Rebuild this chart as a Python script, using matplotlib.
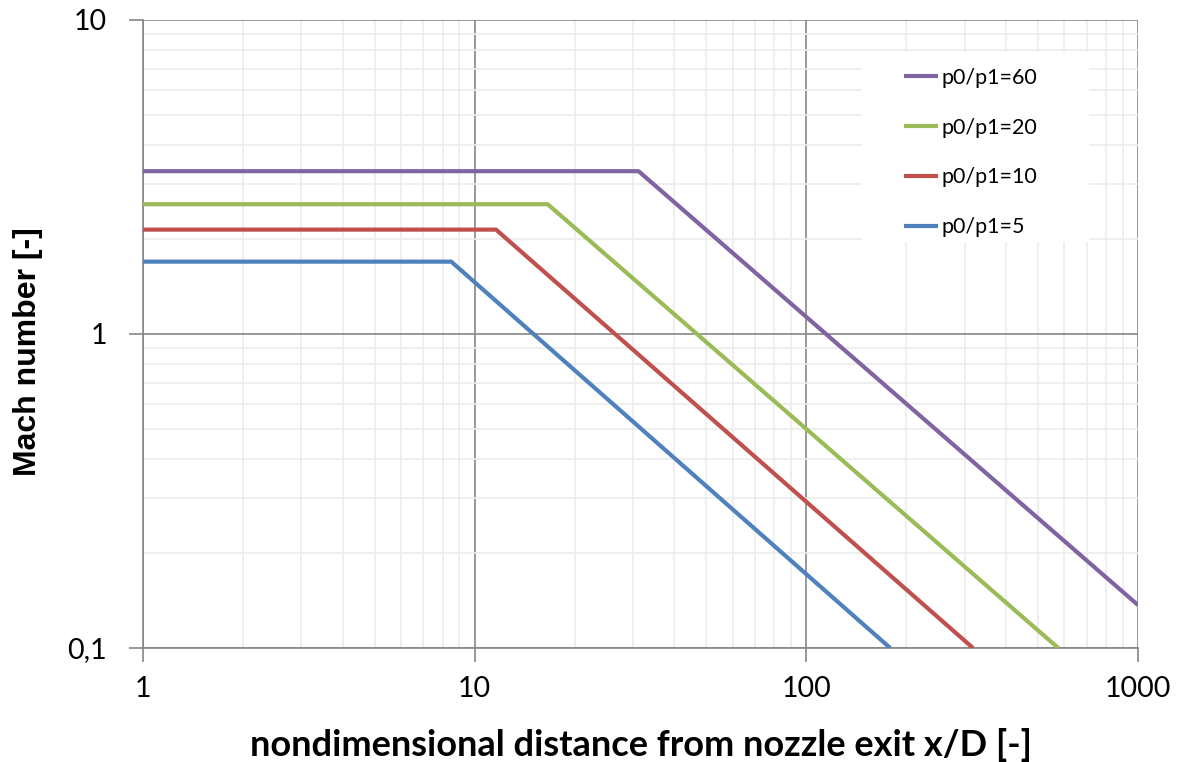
import matplotlib
matplotlib.use("Agg")
import matplotlib.pyplot as plt
from matplotlib.patches import Rectangle
from matplotlib.ticker import FixedLocator, FixedFormatter, LogLocator, NullFormatter

# Data (x/D, Mach)
labels = ["p0/p1=60", "p0/p1=20", "p0/p1=10", "p0/p1=5"]
colors = ["#8064a2", "#9bbb59", "#c0504d", "#4f81bd"]
x_60 = [1, 31.2, 1000]
m_60 = [3.30, 3.30, 0.137]
x_20 = [1, 16.6, 575]
m_20 = [2.59, 2.59, 0.1]
x_10 = [1, 11.6, 318]
m_10 = [2.15, 2.15, 0.1]
x_5 = [1, 8.5, 179]
m_5 = [1.70, 1.70, 0.1]
xs = [x_60, x_20, x_10, x_5]
ms = [m_60, m_20, m_10, m_5]

x_ticks = [1, 10, 100, 1000]
x_ticklabels = ["1", "10", "100", "1000"]
y_ticks = [0.1, 1, 10]
y_ticklabels = ["0,1", "1", "10"]

plt.rcParams['font.family'] = ['Lato', 'DejaVu Sans']

W, H = 1179, 762
fig = plt.figure(figsize=(W / 100, H / 100), dpi=100)
ax = fig.add_axes([143 / W, 1 - 648 / H, (1138 - 143) / W, (648 - 20) / H])

for x, m, c, l in zip(xs, ms, colors, labels):
    ax.plot(x, m, color=c, lw=3, label=l, solid_capstyle='butt', zorder=3)

ax.set_xscale('log')
ax.set_yscale('log')
ax.set_xlim(1, 1000)
ax.set_ylim(0.1, 10)

ax.xaxis.set_major_locator(FixedLocator(x_ticks))
ax.xaxis.set_major_formatter(FixedFormatter(x_ticklabels))
ax.yaxis.set_major_locator(FixedLocator(y_ticks))
ax.yaxis.set_major_formatter(FixedFormatter(y_ticklabels))
ax.xaxis.set_minor_locator(LogLocator(base=10, subs=range(2, 10), numticks=20))
ax.yaxis.set_minor_locator(LogLocator(base=10, subs=range(2, 10), numticks=20))
ax.xaxis.set_minor_formatter(NullFormatter())
ax.yaxis.set_minor_formatter(NullFormatter())

ax.grid(which='minor', color='#ececec', lw=1.2, zorder=0)
ax.grid(which='major', color='#868686', lw=1.2, zorder=1)
ax.set_axisbelow(True)

for s in ['top', 'right']:
    ax.spines[s].set_visible(False)
for s in ['left', 'bottom']:
    ax.spines[s].set_color('#868686')
    ax.spines[s].set_linewidth(1.2)

ax.tick_params(which='major', direction='out', length=10, width=1.2, color='#868686',
               labelsize=20.5)
ax.tick_params(axis='x', which='major', pad=10)
ax.tick_params(axis='y', which='major', pad=16)
ax.tick_params(which='minor', length=0)

ax.set_xlabel("nondimensional distance from nozzle exit x/D [-]", fontsize=26,
              fontweight='bold', labelpad=19)
ax.set_ylabel("Mach number [-]", fontsize=23, fontweight='bold',
              family=['Liberation Sans', 'DejaVu Sans'])
ax.yaxis.set_label_coords(-0.101, 0.472)

# white legend panel
ax.add_patch(Rectangle((862 / W, 1 - 242 / H), (1089 - 862) / W, (242 - 52) / H,
                       transform=fig.transFigure, facecolor='white',
                       edgecolor='none', zorder=2))

leg = ax.legend(loc='upper left', bbox_to_anchor=(904 / W, 1 - 68 / H),
                bbox_transform=fig.transFigure, fontsize=15.5, frameon=False,
                handlelength=1.6, handletextpad=0.15, labelspacing=1.38,
                borderpad=0, borderaxespad=0)

fig.savefig("out.png", dpi=100)
